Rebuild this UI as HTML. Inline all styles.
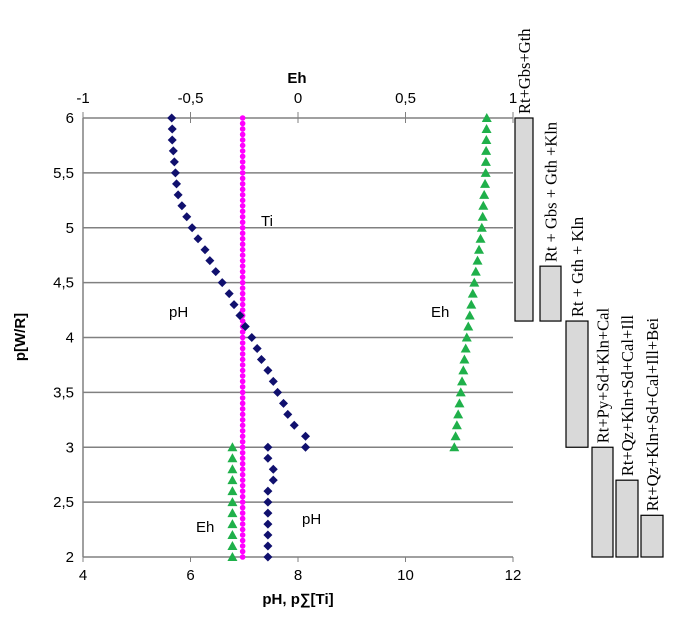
<!DOCTYPE html>
<html><head><meta charset="utf-8"><style>
body{margin:0;background:#fff;}
svg{display:block;font-family:"Liberation Sans",sans-serif;}
.mt{font-family:"Liberation Serif",serif;font-size:16.5px;}
</style></head><body>
<svg id="chart" width="686" height="624">
<g id="grid"></g><g id="marks"></g><g id="boxes"></g>
</svg>
<script>
const pUpper=[6,5.9,5.8,5.7,5.6,5.5,5.4,5.3,5.2,5.1,5,4.9,4.8,4.7,4.6,4.5,4.4,4.3,4.2,4.1,4,3.9,3.8,3.7,3.6,3.5,3.4,3.3,3.2,3.1,3];
const phUpper=[5.65,5.66,5.66,5.68,5.70,5.72,5.74,5.77,5.84,5.93,6.03,6.14,6.27,6.36,6.47,6.59,6.72,6.81,6.92,7.02,7.14,7.24,7.32,7.44,7.54,7.62,7.73,7.81,7.93,8.14,8.14];
const ehUpper=[0.878,0.877,0.876,0.875,0.874,0.873,0.870,0.866,0.862,0.859,0.855,0.849,0.842,0.835,0.827,0.820,0.813,0.806,0.799,0.792,0.785,0.780,0.774,0.769,0.763,0.757,0.751,0.745,0.739,0.733,0.727];
const pLower=[3,2.9,2.8,2.7,2.6,2.5,2.4,2.3,2.2,2.1,2];
const phLower=[7.44,7.44,7.54,7.54,7.44,7.44,7.44,7.44,7.44,7.44,7.44];
const ehLower=[-0.305,-0.305,-0.305,-0.305,-0.305,-0.305,-0.305,-0.305,-0.305,-0.305,-0.305];
const tiValue=6.97;
const yTicks=["6","5,5","5","4,5","4","3,5","3","2,5","2"];
const yTickVals=[6,5.5,5,4.5,4,3.5,3,2.5,2];
const phTicks=[4,6,8,10,12];
const ehTicks=[-1,-0.5,0,0.5,1];
const ehTickLabels=["-1","-0,5","0","0,5","1"];
const zoneLabels=["Rt+Gbs+Gth","Rt + Gbs + Gth +Kln","Rt + Gth + Kln","Rt+Py+Sd+Kln+Cal","Rt+Qz+Kln+Sd+Cal+Ill","Rt+Qz+Kln+Sd+Cal+Ill+Bei"];
const zoneTop=[6,4.65,4.15,3,2.7,2.38];
const zoneBottom=[4.15,4.15,3,2,2,2];

const X0=83,X1=513,Y0=118,Y1=557;
const xPH=v=>X0+(v-4)/8*(X1-X0);
const xEh=v=>X0+(v+1)/2*(X1-X0);
const yP=v=>Y1-(v-2)/4*(Y1-Y0);
const NS="http://www.w3.org/2000/svg";
function mk(tag,attrs,parent,text){const e=document.createElementNS(NS,tag);for(const k in attrs)e.setAttribute(k,attrs[k]);if(text!==undefined)e.textContent=text;parent.appendChild(e);return e;}
const grid=document.getElementById('grid'),marks=document.getElementById('marks'),boxes=document.getElementById('boxes');

yTickVals.forEach((v,i)=>{
  const l=mk('line',{x1:X0,x2:X1,y1:yP(v),y2:yP(v),stroke:'#808080','stroke-width':1.5},grid);
  
  
  const t=mk('text',{x:X0-9,y:yP(v)+5,'text-anchor':'end','font-size':15},grid,yTicks[i]);
  
  
});
mk('line',{x1:X0,x2:X0,y1:Y0,y2:Y1,stroke:'#808080','stroke-width':1.5},grid);
phTicks.forEach(v=>{
  mk('line',{x1:xPH(v),x2:xPH(v),y1:Y1,y2:Y1+5,stroke:'#808080'},grid);
  const t=mk('text',{x:xPH(v),y:Y1+23,'text-anchor':'middle','font-size':15},grid,String(v));
  
  
});
ehTicks.forEach((v,i)=>{
  mk('line',{x1:xEh(v),x2:xEh(v),y1:Y0-6,y2:Y0+5,stroke:'#808080'},grid);
  const t=mk('text',{x:xEh(v),y:Y0-15,'text-anchor':'middle','font-size':15},grid,ehTickLabels[i]);
  
  
});
let t;
t=mk('text',{x:297,y:83,'text-anchor':'middle','font-size':15,'font-weight':'bold'},grid,'Eh');

t=mk('text',{x:298,y:604,'text-anchor':'middle','font-size':15,'font-weight':'bold'},grid,'pH, p∑[Ti]');

t=mk('text',{x:0,y:0,'text-anchor':'middle','font-size':15,'font-weight':'bold',transform:'translate(25,337) rotate(-90)'},grid,'p[W/R]');


for(let p=6;p>=1.999;p-=0.05){
  const c=mk('circle',{cx:xPH(tiValue),cy:yP(p),r:2.8,fill:'#ff00ff'},marks);
  
  
}
function diamond(x,y){const s=4.5;const d=mk('polygon',{points:`${x},${y-s} ${x+s},${y} ${x},${y+s} ${x-s},${y}`,fill:'#10106e'},marks);
  
  }
function tri(x,y){const s=5;const d=mk('polygon',{points:`${x},${y-s} ${x+s},${y+s*0.8} ${x-s},${y+s*0.8}`,fill:'#1fb04a'},marks);
  
  }
pUpper.forEach((p,i)=>{diamond(xPH(phUpper[i]),yP(p));tri(xEh(ehUpper[i]),yP(p));});
pLower.forEach((p,i)=>{diamond(xPH(phLower[i]),yP(p));tri(xEh(ehLower[i]),yP(p));});

[["Ti",261,226],["pH",169,317],["Eh",431,317],["Eh",196,532],["pH",302,524]].forEach(a=>{
  const e=mk('text',{x:a[1],y:a[2],'font-size':15},marks,a[0]);
  
  
});

const bx=[515,540,566,592,616,641],bw=[18,21,22,21,22,22];
zoneLabels.forEach((lab,i)=>{
  const y1=yP(zoneTop[i]),y2=yP(zoneBottom[i]);
  const r=mk('rect',{x:bx[i],y:y1,width:bw[i],height:y2-y1,fill:'#d9d9d9',stroke:'#000','stroke-width':1.2},boxes);
  
  
  const cx=bx[i]+bw[i]/2+6;
  const tx=mk('text',{x:0,y:0,class:'mt',transform:`translate(${cx},${y1-4}) rotate(-90)`},boxes,lab);
  
  
});
</script>
</body></html>
